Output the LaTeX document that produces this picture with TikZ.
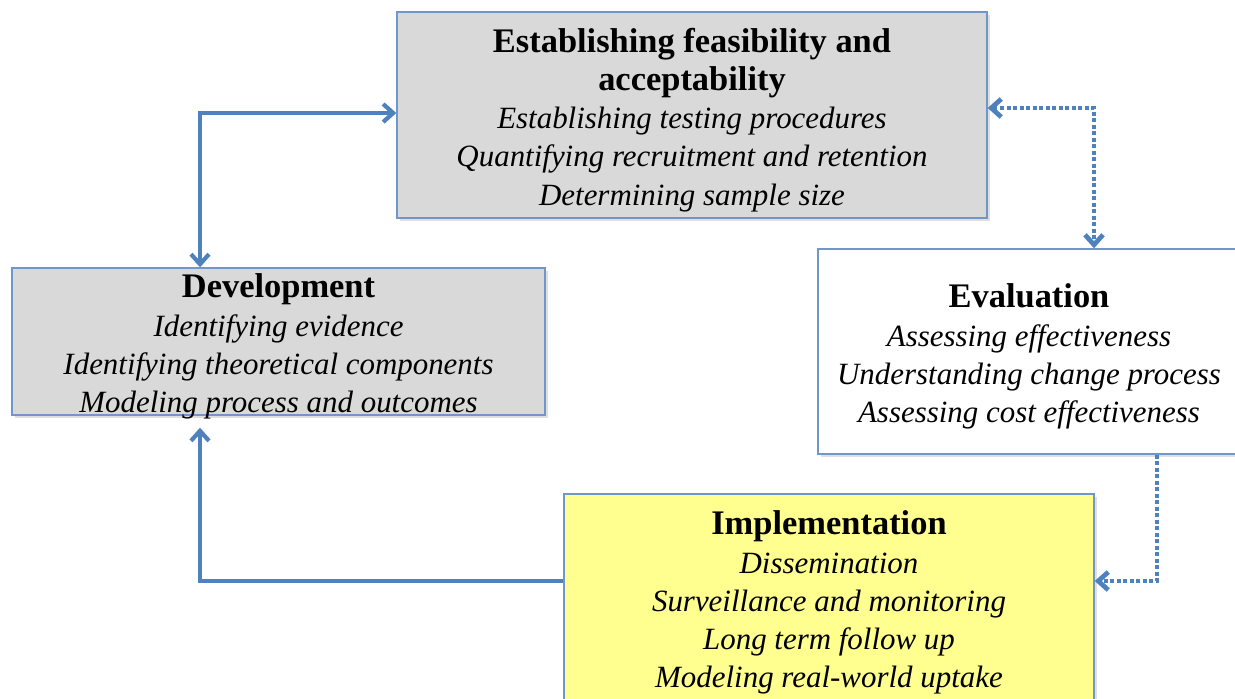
\documentclass[tikz,border=0pt]{standalone}
\usepackage{fontspec}
\setmainfont{Liberation Serif}
\usetikzlibrary{arrows.meta,shadows}
\definecolor{linkblue}{HTML}{4F81BD}
\definecolor{boxline}{HTML}{7396CA}
\definecolor{boxgray}{HTML}{D9D9D9}
\definecolor{boxyellow}{HTML}{FFFF8F}
\tikzstyle{stage}=[draw=boxline, line width=0.8pt, inner sep=0pt,
  drop shadow={shadow xshift=0.05cm, shadow yshift=-0.05cm, opacity=0.25}]
\tikzstyle{stagetext}=[align=center, inner sep=0pt, font=\fontsize{17.6}{21.7}\selectfont\itshape]
\tikzstyle{flow}=[draw=linkblue, line width=2.4pt]
\tikzstyle{dotflow}=[flow, line width=2.7pt, dash pattern=on 2.2pt off 1.5pt]
\newcommand{\hd}[1]{{\fontsize{19.6}{21.7}\selectfont\bfseries\upshape #1}}

\begin{document}
\begin{tikzpicture}[>={Straight Barb[length=0.2cm,width=0.36cm]}]
\useasboundingbox (0,0) rectangle (24.7,-13.96);
\node[stage, fill=boxgray, minimum width=11.8cm, minimum height=4.12cm] (feas) at (13.84,-2.30) {};
\node[stagetext] (feastext) at ([yshift=-0.1cm]feas.center)
  {\hd{Establishing feasibility and}\\ \hd{acceptability}\\ Establishing testing procedures\\
   Quantifying recruitment and retention\\ Determining sample size};
\node[stage, fill=boxgray, minimum width=10.66cm, minimum height=2.94cm] (dev) at (5.57,-6.83) {};
\node[stagetext] (devtext) at ([yshift=-0.1cm]dev.center)
  {\hd{Development}\\ Identifying evidence\\ Identifying theoretical components\\
   Modeling process and outcomes};
\node[stage, fill=white, minimum width=8.44cm, minimum height=4.10cm] (eval) at (20.58,-7.03) {};
\node[stagetext] (evaltext) at ([yshift=-0.1cm]eval.center)
  {\hd{Evaluation}\\ Assessing effectiveness\\ Understanding change process\\
   Assessing cost effectiveness};
\node[stage, fill=boxyellow, minimum width=10.6cm, minimum height=4.24cm] (impl) at (16.58,-12.0) {};
\node[stagetext] (impltext) at ([yshift=-0.05cm]impl.center)
  {\hd{Implementation}\\ Dissemination\\ Surveillance and monitoring\\
   Long term follow up\\ Modeling real-world uptake};
\coordinate (devup) at (4.0,-2.26);
\coordinate (devlow) at (4.0,-11.62);
\coordinate (evalup) at (21.88,-2.16);
\coordinate (evallow) at (23.14,-11.62);
\draw[flow,<->] (feas.west |- devup) -| (dev.north -| devup);
\draw[flow,->,shorten >=0.24cm] (impl.west |- devlow) -| (dev.south -| devlow);
\draw[dotflow,<->] (feas.east |- evalup) -| (eval.north -| evalup);
\draw[dotflow,->] (eval.south -| evallow) |- (impl.east |- evallow);
\end{tikzpicture}
\end{document}
